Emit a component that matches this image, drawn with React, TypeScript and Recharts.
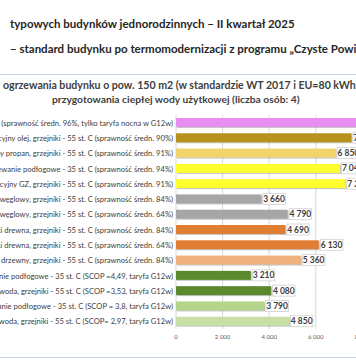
import React from 'react';
import { BarChart, Bar, XAxis, YAxis, CartesianGrid, Cell, LabelList } from 'recharts';

const categories = [
  'Kocioł elektryczny, grzejniki - 55 st. C (sprawność średn. 96%, tylko taryfa nocna w G12w)',
  'Kocioł kondensacyjny olej,  grzejniki - 55 st. C (sprawność średn. 90%)',
  'Kocioł kondensacyjny propan, grzejniki - 55 st. C (sprawność średn. 91%)',
  'Kocioł kondensacyjny GZ, ogrzewanie podłogowe - 35 st. C (sprawność średn. 94%)',
  'Kocioł kondensacyjny GZ, grzejniki - 55 st. C (sprawność średn. 91%)',
  'Kocioł 5 klasy węglowy,  grzejniki - 55 st. C (sprawność średn. 84%)',
  'Kocioł pozaklasowy węglowy,  grzejniki - 55 st. C (sprawność średn. 64%)',
  'Kocioł 5 klasy na polanki drewna, grzejniki - 55 st. C (sprawność średn. 84%)',
  'Kocioł pozaklasowy na polanki drewna, grzejniki - 55 st. C (sprawność średn. 64%)',
  'Kocioł 5 klasy na pellet drzewny, grzejniki - 55 st. C (sprawność średn. 84%)',
  'Pompa ciepła grunt/woda, ogrzewanie podłogowe - 35 st. C (SCOP =4,49, taryfa G12w)',
  'Pompa ciepła grunt/woda, grzejniki - 55 st. C (SCOP =3,53, taryfa G12w)',
  'Pompa ciepła powietrze/woda, ogrzewanie podłogowe - 35 st. C (SCOP = 3,8, taryfa G12w)',
  'Pompa ciepła powietrze/woda, grzejniki - 55 st. C (SCOP= 2,97, taryfa G12w)',
];

const costs = [9370, 7530, 6850, 7040, 7270, 3660, 4790, 4690, 6130, 5360, 3210, 4080, 3790, 4850];

const colors = [
  '#e88ef0', '#b8901c', '#f3d46c', '#ffff2e', '#ffff2e',
  '#a6a6a6', '#a6a6a6', '#e07e34', '#e07e34', '#efb27e',
  '#5b8a2e', '#5b8a2e', '#b5d58c', '#c8e0a8',
];

const xTicks = [0, 2000, 4000, 6000, 8000, 10000];

const data = categories.map((name, i) => ({ name, value: costs[i] }));

const fmt = (v: number) => String(v).replace(/\B(?=(\d{3})+(?!\d))/g, ' ');

const font = 'Lato, "Noto Sans", sans-serif';

const YTick = (props: any) => {
  const { x, y, payload } = props;
  return (
    <text x={x} y={y} textAnchor="end" dominantBaseline="central" fontSize={7.6} fill="#404040" fontFamily={font}>
      {payload.value}
    </text>
  );
};

const ShadowBar = (props: any) => {
  const { x, y, width, height, fill } = props;
  return (
    <g>
      <rect x={x + 1} y={y + 1} width={width} height={height} fill="rgba(0,0,0,0.22)" />
      <rect x={x} y={y} width={width} height={height} fill={fill} />
    </g>
  );
};

const ValueLabel = (props: any) => {
  const { x, y, width, height, value } = props;
  const text = fmt(value);
  const w = text.length * 4 + 2.5;
  const bx = x + width + 1.5;
  const cy = y + height / 2;
  return (
    <g>
      <rect x={bx} y={cy - 5.5} width={w} height={11} fill="#fff" stroke="#d0d0d0" strokeWidth={0.8} />
      <text x={bx + w / 2} y={cy} textAnchor="middle" dominantBaseline="central" fontSize={8.5} fontWeight={700} fill="#404040" fontFamily={font}>
        {text}
      </text>
    </g>
  );
};

const App = () => {
  return (
    <div style={{ position: 'absolute', left: 0, top: 0, width: 356, height: 364, overflow: 'hidden', background: '#fff', fontFamily: font }}>
      <div style={{ position: 'absolute', left: 10, top: 17, fontSize: 11.5, fontWeight: 700, color: '#262626', whiteSpace: 'nowrap' }}>
        typowych budynków jednorodzinnych – II kwartał 2025
      </div>
      <div style={{ position: 'absolute', left: 10, top: 42, fontSize: 11.5, fontWeight: 700, color: '#262626', whiteSpace: 'nowrap' }}>
        – standard budynku po termomodernizacji z programu „Czyste Powietrze"
      </div>
      <div style={{ position: 'absolute', left: -20, top: 74, width: 400, height: 284, border: '1px solid #c9d5ea', borderRadius: 6, boxSizing: 'border-box' }} />
      <div style={{ position: 'absolute', left: 3, top: 79, fontSize: 10.6, fontWeight: 700, color: '#404040', whiteSpace: 'nowrap' }}>
        ogrzewania budynku o pow. 150 m2 (w standardzie WT 2017 i EU=80 kWh/m2rok) oraz
      </div>
      <div style={{ position: 'absolute', left: 52, top: 93, fontSize: 10.3, fontWeight: 700, color: '#404040', whiteSpace: 'nowrap' }}>
        przygotowania ciepłej wody użytkowej (liczba osób: 4)
      </div>
      <div style={{ position: 'absolute', left: 0, top: 0 }}>
        <BarChart
          width={420}
          height={350}
          data={data}
          layout="vertical"
          margin={{ top: 115, right: 11, left: 0, bottom: 0 }}
        >
          <CartesianGrid horizontal={false} stroke="#d9d9d9" />
          <XAxis
            type="number"
            domain={[0, 10000]}
            ticks={xTicks}
            tickFormatter={fmt}
            axisLine={false}
            tickLine={false}
            tickSize={4}
            height={21}
            tick={{ fontSize: 6, fill: '#595959', fontFamily: font }}
          />
          <YAxis
            type="category"
            dataKey="name"
            width={176}
            interval={0}
            axisLine={false}
            tickLine={false}
            tickSize={0}
            tickMargin={3}
            tick={<YTick />}
          />
          <Bar dataKey="value" barSize={9} isAnimationActive={false} shape={<ShadowBar />}>
            {data.map((d, i) => (
              <Cell key={d.name} fill={colors[i]} />
            ))}
            <LabelList dataKey="value" content={<ValueLabel />} />
          </Bar>
        </BarChart>
      </div>
    </div>
  );
};

export default App;
